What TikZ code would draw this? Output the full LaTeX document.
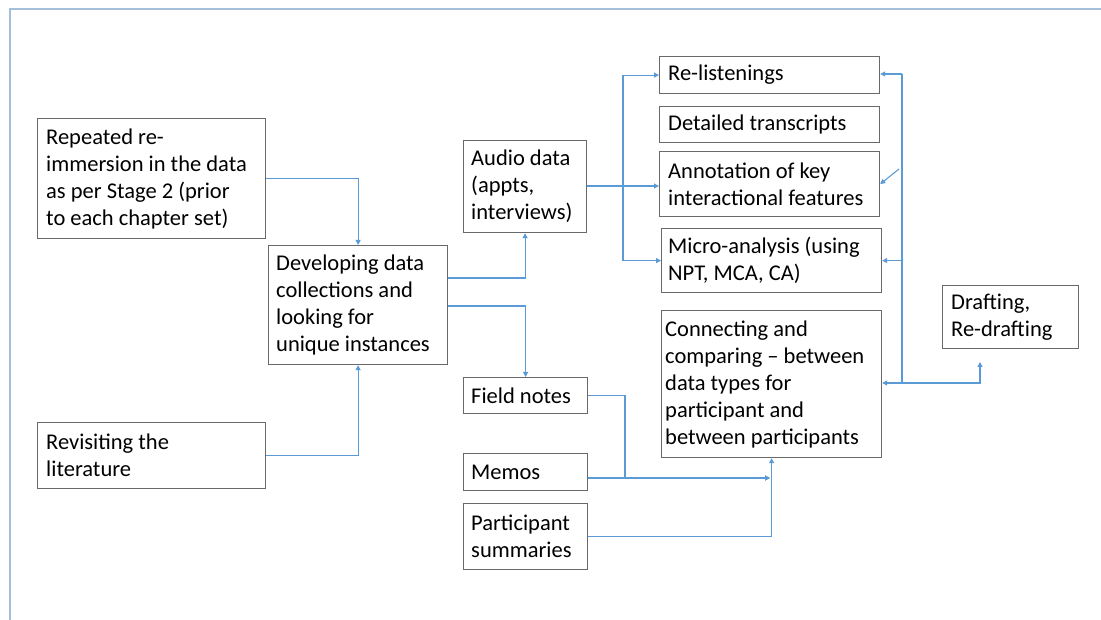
\documentclass[tikz,border=0pt]{standalone}
\usepackage{fontspec}
\setmainfont{Carlito}
\usetikzlibrary{arrows.meta,calc}

\definecolor{framegray}{RGB}{105,105,105}
\definecolor{flowblue}{RGB}{91,155,213}
\definecolor{pageblue}{RGB}{165,190,218}

\tikzset{
  boxframe/.style={draw=framegray, line width=1.2pt, fill=white, anchor=north west,
    inner sep=0pt, minimum width=#1},
  boxtext/.style={anchor=west, align=left, inner sep=0pt,
    font=\fontsize{22.5}{27}\selectfont},
  flow/.style={draw=flowblue, line width=1.1pt,
    -{Triangle[length=5pt,width=5pt]}},
  plainflow/.style={draw=flowblue, line width=1.1pt},
}

\begin{document}
\begin{tikzpicture}[x=1pt,y=-1pt]
  \useasboundingbox (0,0) rectangle (1101,620);
  \fill[white] (0,0) rectangle (1101,620);

  % page edge lines
  \draw[pageblue, line width=1.6pt] (10,620) -- (10,9) -- (1101,9);

  % left column
  \node[boxframe=228pt, minimum height=120pt] (rep) at (37,118) {};
  \node[boxtext] (repT) at ([xshift=9pt]rep.west)
    {Repeated re-\\immersion in the data\\as per Stage 2 (prior\\to each chapter set)};
  \node[boxframe=228pt, minimum height=66pt] (rev) at (37,422) {};
  \node[boxtext] (revT) at ([xshift=9pt]rev.west) {Revisiting the\\literature};

  % central box
  \node[boxframe=179pt, minimum height=119pt] (dev) at (268,245) {};
  \node[boxtext] (devT) at ([xshift=8pt]dev.west)
    {Developing data\\collections and\\looking for\\unique instances};

  % data sources
  \node[boxframe=123pt, minimum height=92pt] (aud) at (463,140) {};
  \node[boxtext] (audT) at ([xshift=8pt]aud.west) {Audio data\\(appts,\\interviews)};
  \node[boxframe=124pt, minimum height=36pt] (fld) at (463,377) {};
  \node[boxtext] (fldT) at ([xshift=8pt]fld.west) {Field notes};
  \node[boxframe=124pt, minimum height=37pt] (mem) at (463,453) {};
  \node[boxtext] (memT) at ([xshift=8pt]mem.west) {Memos};
  \node[boxframe=124pt, minimum height=66pt] (par) at (463,503) {};
  \node[boxtext] (parT) at ([xshift=8pt]par.west) {Participant\\summaries};

  % analysis column
  \node[boxframe=220pt, minimum height=37pt] (rel) at (659,56) {};
  \node[boxtext] (relT) at ([xshift=9pt]rel.west) {Re-listenings};
  \node[boxframe=220pt, minimum height=36pt] (det) at (659,106) {};
  \node[boxtext] (detT) at ([xshift=9pt]det.west) {Detailed transcripts};
  \node[boxframe=220pt, minimum height=65pt] (ann) at (659,151) {};
  \node[boxtext] (annT) at ([xshift=9pt]ann.west) {Annotation of key\\interactional features};
  \node[boxframe=220pt, minimum height=64pt] (mic) at (661,228) {};
  \node[boxtext] (micT) at ([xshift=7pt]mic.west) {Micro-analysis (using\\NPT, MCA, CA)};
  \node[boxframe=220pt, minimum height=147pt] (con) at (661,310) {};
  \node[boxtext] (conT) at ([xshift=4pt]con.west)
    {Connecting and\\comparing -- between\\data types for\\participant and\\between participants};
  \node[boxframe=136pt, minimum height=63pt] (dra) at (942,285) {};
  \node[boxtext] (draT) at ([xshift=9pt]dra.west) {Drafting,\\Re-drafting};

  % junction points
  \coordinate (bL) at (623,186);
  \coordinate (bR) at (902,383);
  \coordinate (bTop) at (902,74);
  \coordinate (dg) at (899,169);
  \coordinate (dT) at (980,362);
  \coordinate (mj) at (625,478);
  \coordinate (mT) at (770,478);

  % into the central box
  \draw[flow] (rep.east) -| (dev.north);
  \draw[flow] (rev.east) -| (dev.south);

  % out of the central box
  \draw[flow] (dev.east |- 0,278) -| (aud.south);
  \draw[flow] (dev.east |- 0,306) -| (fld.north);

  % audio data to the analysis steps
  \draw[flow] (aud.east |- bL) -- (ann.west |- bL);
  \draw[flow] (bL) |- (rel.west);
  \draw[flow] (bL) |- (mic.west);

  % feedback bus on the right
  \draw[plainflow] (bTop) -- (bR);
  \draw[flow] (bTop) -- (rel.east |- bTop);
  \draw[flow] (bR |- mic.east) -- (mic.east);
  \draw[flow] (bR) -- (con.east |- bR);
  \draw[flow] (dg) -- (ann.east);
  \draw[flow] (bR) -| (dT);

  % notes, memos and summaries into the comparison step
  \draw[plainflow] (fld.east) -| (mj);
  \draw[flow] (mj) -- (mT);
  \draw[flow] (mem.east |- mT) -- (mT);
  \draw[flow] (par.east) -| (con.south);
\end{tikzpicture}
\end{document}
